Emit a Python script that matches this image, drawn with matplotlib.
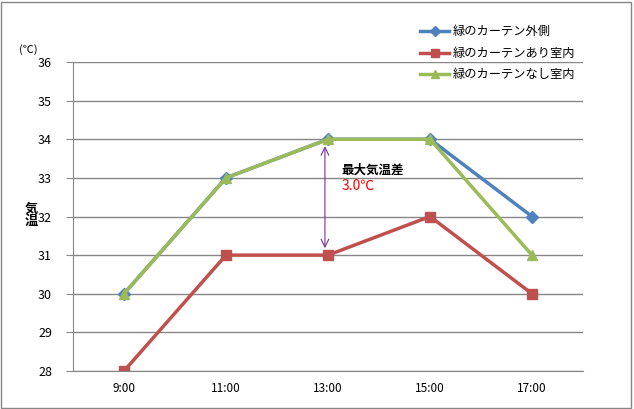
import matplotlib.pyplot as plt
from matplotlib.patches import Rectangle

plt.rcParams['font.family'] = ['Noto Sans CJK JP', 'DejaVu Sans']

# 時刻と気温
times = ["9:00", "11:00", "13:00", "15:00", "17:00"]
outside = [30, 33, 34, 34, 32]
with_curtain = [28, 31, 31, 32, 30]
without_curtain = [30, 33, 34, 34, 31]
labels = ["緑のカーテン外側", "緑のカーテンあり室内", "緑のカーテンなし室内"]

fig = plt.figure(figsize=(6.34, 4.09), dpi=100)
ax = fig.add_axes([0.1151, 0.0929, 0.8045, 0.7555])

x = range(len(times))
ax.plot(x, outside, color='#4F81BD', lw=2.5, marker='D', ms=6, label=labels[0])
ax.plot(x, with_curtain, color='#C0504D', lw=2.5, marker='s', ms=7, label=labels[1])
ax.plot(x, without_curtain, color='#9BBB59', lw=2.5, marker='^', ms=7, label=labels[2])

ax.set_xlim(-0.5, 4.5)
ax.set_ylim(28, 36)
ax.set_xticks(list(x))
ax.set_xticklabels(times, fontsize=8.5)
ax.set_yticks(range(28, 37))
ax.tick_params(axis='y', labelsize=9, length=5, color='#868686', pad=10)
ax.tick_params(axis='x', length=0, pad=8)
ax.yaxis.grid(True, color='#868686', lw=1)
ax.set_axisbelow(True)
for s in ['top', 'right']:
    ax.spines[s].set_visible(False)
ax.spines['left'].set_color('#868686')
ax.spines['bottom'].set_color('#868686')

# 最大気温差の矢印
ax.annotate('', xy=(1.97, 34), xytext=(1.97, 31),
            arrowprops=dict(arrowstyle='<->', color='#7030A0', lw=0.8,
                            shrinkA=5, shrinkB=5, mutation_scale=14))
ax.text(2.13, 33.2, "最大気温差", fontsize=9, fontweight='bold', va='center')
ax.text(2.13, 32.8, "3.0℃", fontsize=10, color='red', va='center')

fig.text(0.03, 0.87, "(℃)", fontsize=8)
fig.text(0.05, 0.474, "気\n温", fontsize=9.5, fontweight='bold',
         ha='center', va='center', linespacing=0.85)

ax.legend(loc='upper left', bbox_to_anchor=(0.645, 0.965),
          bbox_transform=fig.transFigure, frameon=False,
          fontsize=8.8, handlelength=2.4, handletextpad=0.3,
          labelspacing=0.7, markerscale=0.8)

fig.patches.append(Rectangle((0.002, 0.003), 0.994, 0.993, transform=fig.transFigure,
                             fill=False, edgecolor='#868686', lw=1))

fig.savefig('out.png', dpi=100)
